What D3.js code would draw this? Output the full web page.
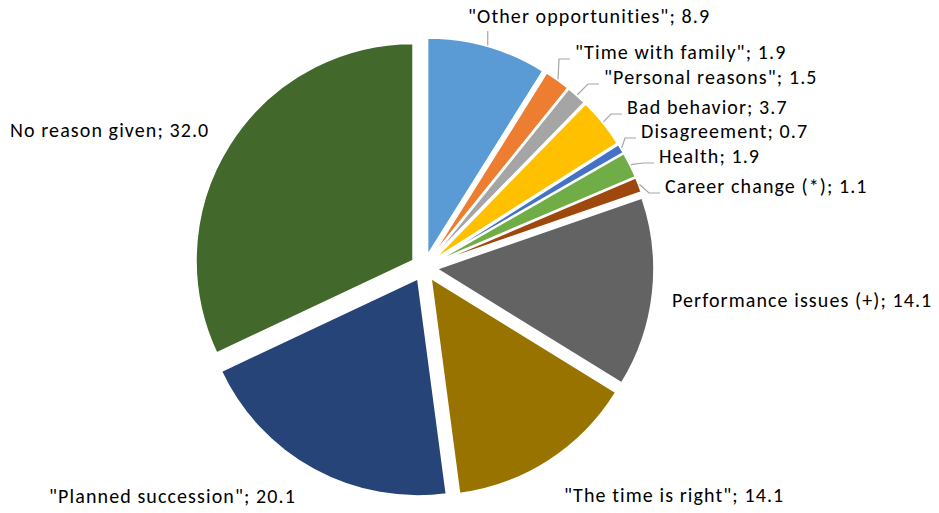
<!DOCTYPE html>
<html>
<head>
<meta charset="utf-8">
<script src="https://cdn.jsdelivr.net/npm/d3@7/dist/d3.min.js"></script>
<style>
  html, body { margin: 0; padding: 0; background: #fff; }
  svg { display: block; }
  .lbl { font-family: Carlito, Calibri, Lato, "Liberation Sans", sans-serif; font-size: 20px; letter-spacing: 1.1px; fill: #000; }
</style>
</head>
<body>
<svg id="chart" width="939" height="513"></svg>
<script>
// Reasons for leaving, share of cases (%)
const categories = [
  '"Other opportunities"',
  '"Time with family"',
  '"Personal reasons"',
  'Bad behavior',
  'Disagreement',
  'Health',
  'Career change (*)',
  'Performance issues (+)',
  '"The time is right"',
  '"Planned succession"',
  'No reason given'
];
const values = [8.9, 1.9, 1.5, 3.7, 0.7, 1.9, 1.1, 14.1, 14.1, 20.1, 32.0];
const valueLabels = ["8.9", "1.9", "1.5", "3.7", "0.7", "1.9", "1.1", "14.1", "14.1", "20.1", "32.0"];
const separators = ["; ", "; ", "; ", "; ", "; ", "; ", "; ", "; ", "; ", "; ", "; "];

// Slice colours (Office palette)
const colors = ["#5B9BD5", "#ED7D31", "#A5A5A5", "#FFC000", "#4472C4", "#70AD47",
                "#9E480E", "#636363", "#997300", "#264478", "#43682B"];

// Label placement: left x, baseline y, and whether a leader line is drawn
const labelX = [468, 575, 604, 627, 641, 659, 665, 672, 564, 49, 10];
const labelY = [23, 59, 84, 114, 138, 163, 193, 307, 502, 503, 137];
const hasLeader = [true, true, true, true, true, true, true, false, false, false, false];

const cx = 424, cy = 267.5, radius = 217, explode = 13;

const svg = d3.select("#chart");
const g = svg.append("g").attr("transform", `translate(${cx},${cy})`);

const pie = d3.pie().sort(null).value(d => d);
const arcs = pie(values);
const arc = d3.arc().innerRadius(0).outerRadius(radius);

const mid = a => (a.startAngle + a.endAngle) / 2;
const offset = (a, dist) => [Math.sin(mid(a)) * dist, -Math.cos(mid(a)) * dist];

g.selectAll("path.slice")
  .data(arcs)
  .enter().append("path")
  .attr("class", "slice")
  .attr("d", arc)
  .attr("transform", d => { const o = offset(d, explode); return `translate(${o[0]},${o[1]})`; })
  .attr("fill", (d, i) => colors[i])
  .attr("stroke", "#fff")
  .attr("stroke-width", 1.5)
  .attr("stroke-linejoin", "round");

// Leader lines from the outer edge of each small slice to its label
const leaders = svg.append("g");
arcs.forEach((a, i) => {
  if (!hasLeader[i]) return;
  const p = offset(a, radius + explode + 1);
  const sx = cx + p[0], sy = cy + p[1];
  let pts;
  if (i === 0) {
    pts = [[sx, sy], [sx, labelY[i] + 8]];
  } else {
    const ex = labelX[i] - 5, ey = labelY[i];
    const bx = Math.max(sx, ex - 11);
    pts = [[sx, sy], [bx, ey], [ex, ey]];
  }
  leaders.append("path")
    .attr("d", d3.line()(pts))
    .attr("fill", "none")
    .attr("stroke", "#A6A6A6")
    .attr("stroke-width", 1.2);
});

// Data labels
svg.append("g").selectAll("text")
  .data(arcs)
  .enter().append("text")
  .attr("class", "lbl")
  .attr("x", (d, i) => labelX[i])
  .attr("y", (d, i) => labelY[i])
  .text((d, i) => categories[i] + separators[i] + valueLabels[i]);
</script>
</body>
</html>
